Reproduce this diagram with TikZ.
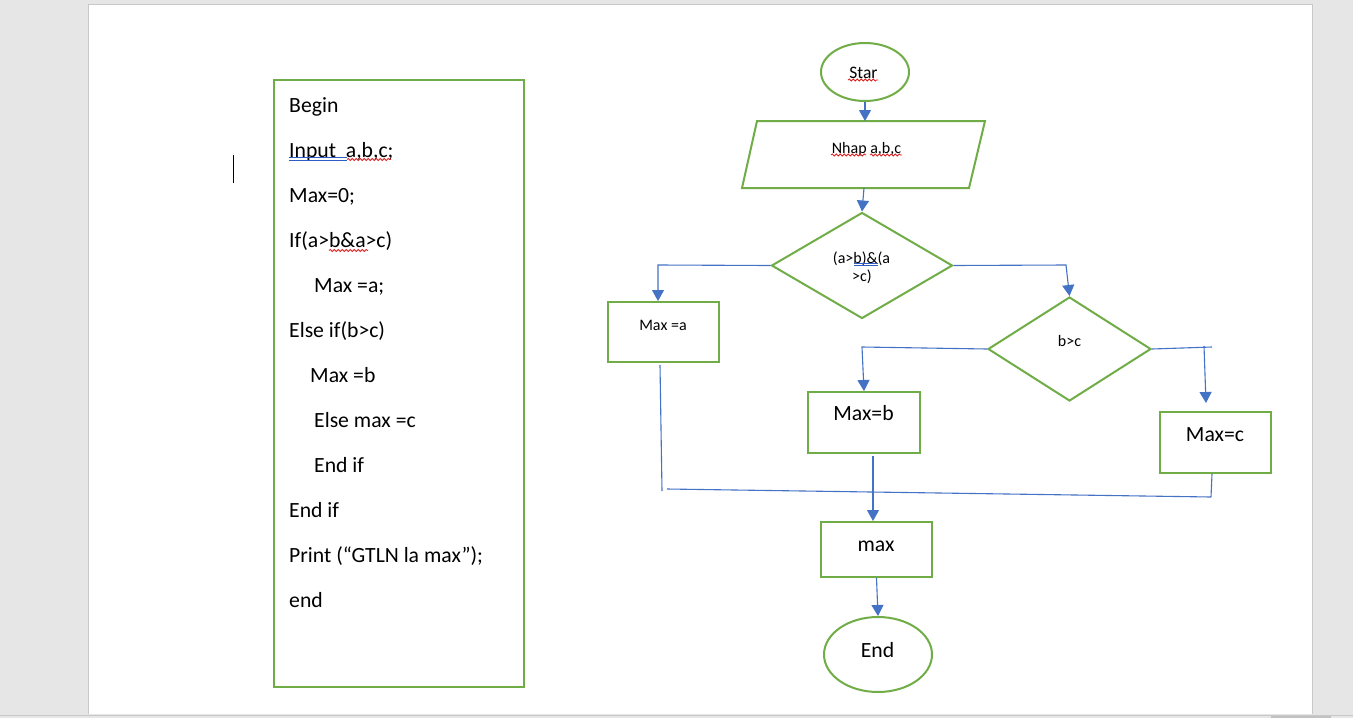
\documentclass[tikz,border=0pt]{standalone}
\usepackage{fontspec}
\setmainfont{Carlito}
\usetikzlibrary{arrows.meta,shapes.geometric,decorations.pathmorphing}
\definecolor{shgreen}{HTML}{70AD47}
\definecolor{lnblue}{HTML}{4472C4}
\definecolor{pagebg}{HTML}{E6E6E6}
\definecolor{pageedge}{HTML}{C8C8C8}
\definecolor{thumb}{HTML}{C2C2C2}
\definecolor{spellred}{HTML}{E02020}
\definecolor{grammarblue}{HTML}{2F5DC8}
\begin{document}
\begin{tikzpicture}[x=1pt,y=-1pt,
  fcshape/.style={draw=shgreen, line width=2pt, fill=white, inner sep=0pt},
  fcbox/.style={fcshape, rectangle},
  fcell/.style={fcshape, ellipse},
  fcdia/.style={fcshape, diamond},
  line/.style={draw=lnblue, line width=1.1pt},
  arr/.style={line, -{Triangle[length=11pt,width=12pt]}},
  big/.style={font=\fontsize{21.7}{26}\selectfont, inner sep=0pt},
  small/.style={font=\fontsize{16}{19}\selectfont, inner sep=0pt},
  code/.style={big, anchor=base west},
  squiggle/.style={draw=spellred, line width=0.8pt, decorate, decoration={snake, segment length=4pt, amplitude=1pt}},
  grammar/.style={draw=grammarblue, line width=0.8pt}]
\useasboundingbox (0,0) rectangle (1353,718);
% window background and page
\fill[pagebg] (0,0) rectangle (1353,718);
\fill[white] (88,4) rectangle (1312,714);
\draw[pageedge, line width=1pt] (88,714) -- (88,4) -- (1312,4) -- (1312,714);
\draw[pageedge, line width=1pt] (0,715) -- (1353,715);
\fill[thumb] (1271,715.5) rectangle (1331,718);
% text cursor
\draw[black, line width=1pt] (233,155) -- (233,183);

% pseudocode box
\node[fcbox, minimum width=250, minimum height=607] (code) at (399,383.5) {};
\node[code] (l1) at (289,112.5) {Begin};
\node[code] (l2) at (289,157.5) {Input \ a,b,c;};
\node[code] (l3) at (289,202.5) {Max=0;};
\node[code] (l4) at (289,247.5) {If(a>b\&a>c)};
\node[code] (l5) at (314,292.5) {Max =a;};
\node[code] (l6) at (289,337.5) {Else if(b>c)};
\node[code] (l7) at (310,382.5) {Max =b};
\node[code] (l8) at (314,427.5) {Else max =c};
\node[code] (l9) at (314,472.5) {End if};
\node[code] (l10) at (289,517.5) {End if};
\node[code] (l11) at (289,562.5) {Print (“GTLN la max”);};
\node[code] (l12) at (289,607.5) {end};

% flowchart shapes
\node[fcell, minimum width=88, minimum height=58] (star) at (865,72) {};
\coordinate (p1) at (757,121);
\coordinate (p2) at (985,121);
\coordinate (p3) at (969,188);
\coordinate (p4) at (742,188);
\filldraw[draw=shgreen, fill=white, line width=2pt, line join=miter] (p1) -- (p2) -- (p3) -- (p4) -- cycle;
\coordinate (inN) at (865,121);
\coordinate (inS) at (864,188);
\node[fcdia, minimum width=181, minimum height=106] (d1) at (862,265.5) {};
\node[fcbox, minimum width=111, minimum height=60] (ma) at (663.5,332) {};
\node[fcdia, minimum width=163, minimum height=104] (d2) at (1069.5,349) {};
\node[fcbox, minimum width=112, minimum height=61] (mb) at (864,422.5) {};
\node[fcbox, minimum width=111, minimum height=61] (mc) at (1215.5,442.5) {};
\node[fcbox, minimum width=111, minimum height=55] (mx) at (876.5,549.5) {};
\node[fcell, minimum width=108, minimum height=75] (end) at (878,654.5) {};

% texts in flowchart
\node[small, font=\fontsize{17.5}{20}\selectfont, anchor=base] (tstar) at (863.5,78) {Star};
\node[small, anchor=base] (tin) at (866.5,153) {Nhap a,b,c};
\node[small, anchor=base] (td1a) at (861.5,263) {(a>b)\&(a};
\node[small, anchor=base] (td1b) at (862,281.5) {>c)};
\node[small, anchor=base] (tma) at (663,330) {Max =a};
\node[small, anchor=base] (td2) at (1069.5,346) {b>c};
\node[big, anchor=base] (tmb) at (863.5,420.5) {Max=b};
\node[big, anchor=base] (tmc) at (1215,441) {Max=c};
\node[big, anchor=base] (tmx) at (876,551) {max};
\node[big, anchor=base] (tend) at (877.5,657) {End};

% proofing marks shown in the screenshot
\draw[grammar] (289,157.8) -- (346.5,157.8);
\draw[grammar] (289,160.6) -- (346.5,160.6);
\draw[squiggle] (347,159.5) -- (391,159.5);
\draw[squiggle] (329,250.5) -- (368,250.5);
\draw[squiggle] (848,80) -- (878,80);
\draw[squiggle] (831,155) -- (866,155);
\draw[squiggle] (870,155) -- (902,155);
\draw[grammar] (854,263.5) -- (877.5,263.5);
\draw[grammar] (854,265.8) -- (877.5,265.8);

% connector points
\coordinate (c1) at (658,265);
\coordinate (c2) at (1066,265);
\coordinate (c3) at (862,347);
\coordinate (c4) at (1212,347);
\coordinate (c5) at (1204,346);
\coordinate (c6) at (1206,403);
\coordinate (c7) at (662,491);
\coordinate (c8) at (660,365);
\coordinate (c9) at (667,489);
\coordinate (c10) at (1211,497);
\coordinate (c11) at (1212,474);
\coordinate (c12) at (873,456);

% connectors
\draw[arr] (star.south) -- (inN);
\draw[arr] (inS) -- (d1.north);
\draw[arr] (d1.west) -- (c1) -- (c1 |- ma.north);
\draw[arr] (d1.east) -- (c2) -- (d2.north);
\draw[arr] (d2.west) -- (c3) -- ([xshift=2pt]c3 |- mb.north);
\draw[line] (d2.east) -- (c4);
\draw[arr] (c5) -- (c6);
\draw[line] (c8) -- (c7);
\draw[line] (c9) -- (c10);
\draw[line] (c11) -- (c10);
\draw[arr] (c12) -- (c12 |- mx.north);
\draw[arr] (mx.south) -- (end.north);
\end{tikzpicture}
\end{document}
